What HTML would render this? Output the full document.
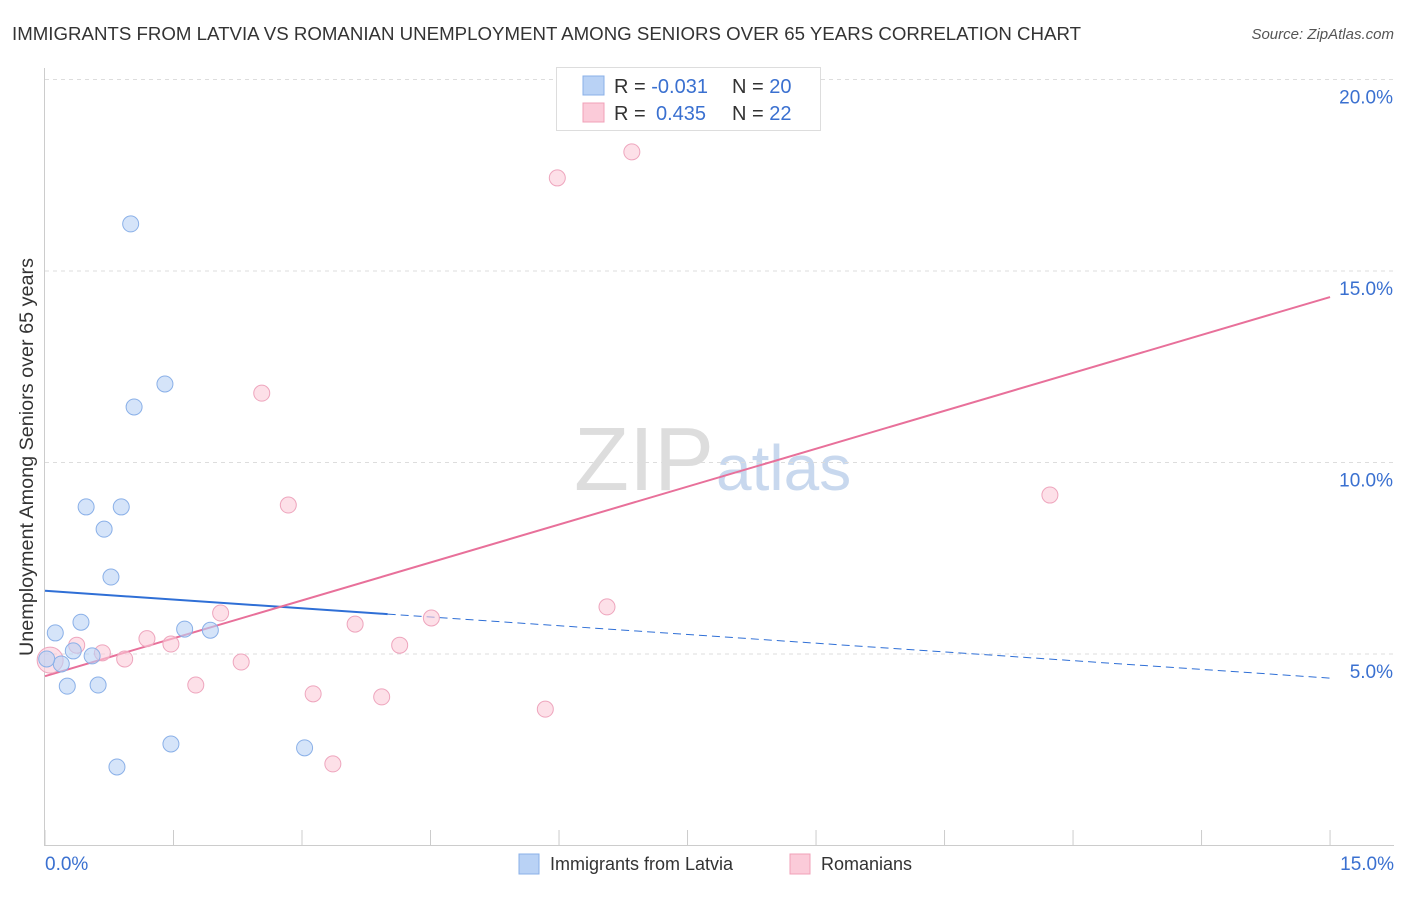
<!DOCTYPE html>
<html><head><meta charset="utf-8"><style>
body{margin:0;background:#fff;font-family:"Liberation Sans",sans-serif;}
svg text{font-family:"Liberation Sans",sans-serif;}
</style></head><body>
<svg id="chart" width="1406" height="892" viewBox="0 0 1406 892">
<text x="12" y="40" font-size="18" fill="#333" textLength="1069" lengthAdjust="spacingAndGlyphs">IMMIGRANTS FROM LATVIA VS ROMANIAN UNEMPLOYMENT AMONG SENIORS OVER 65 YEARS CORRELATION CHART</text>
<text x="1394" y="39" font-size="15" fill="#555" text-anchor="end" font-style="italic">Source: ZipAtlas.com</text>
<text x="714" y="490" font-size="90" fill="#ddd" text-anchor="end" font-family="Liberation Serif">ZIP</text>
<text x="716" y="490" font-size="64" fill="#c8d8ee">atlas</text>
<text transform="translate(33,457) rotate(-90)" font-size="19" fill="#333" text-anchor="middle" textLength="398" lengthAdjust="spacingAndGlyphs">Unemployment Among Seniors over 65 years</text>
<g id="grid"></g><g id="axes"></g><g id="lines"></g><g id="points"></g>
<g>
<rect x="556.5" y="67.5" width="264" height="63" fill="#fff" stroke="#ddd"/>
<rect x="583" y="76" width="21" height="19" fill="#b9d2f5" stroke="#8ab0e8"/>
<rect x="583" y="103" width="21" height="19" fill="#fbcbd9" stroke="#f0a0b8"/>
<text x="614" y="93" font-size="20" fill="#333">R = <tspan fill="#3a70d0">-0.031</tspan><tspan x="732">N = </tspan><tspan fill="#3a70d0">20</tspan></text>
<text x="614" y="120" font-size="20" fill="#333">R = <tspan x="656" fill="#3a70d0">0.435</tspan><tspan x="732">N = </tspan><tspan fill="#3a70d0">22</tspan></text>
</g>
<g>
<rect x="519" y="854" width="20" height="20" fill="#b9d2f5" stroke="#8ab0e8"/>
<text x="550" y="870" font-size="18" fill="#333">Immigrants from Latvia</text>
<rect x="790" y="854" width="20" height="20" fill="#fbcbd9" stroke="#f0a0b8"/>
<text x="821" y="870" font-size="18" fill="#333">Romanians</text>
</g>
</svg>
<script>
const blueX=[1.00,1.40,1.04,0.48,0.89,0.69,0.77,0.42,0.12,1.63,1.93,0.33,0.55,0.19,0.02,0.26,0.62,1.47,3.03,0.84];
const blueY=[16.23,12.05,11.45,8.84,8.84,8.26,7.01,5.83,5.55,5.65,5.62,5.08,4.95,4.74,4.87,4.16,4.19,2.65,2.55,2.05];
const pinkX=[6.85,5.98,2.53,2.84,11.73,6.56,4.51,3.62,2.05,1.19,1.47,0.37,0.67,0.93,4.14,2.29,1.76,3.13,3.93,5.84,3.36,0.06];
const pinkY=[18.11,17.43,11.81,8.89,9.15,6.23,5.94,5.78,6.07,5.40,5.26,5.23,5.03,4.87,5.23,4.79,4.19,3.96,3.88,3.56,2.13,4.84];
const blueTrend=[6.65,4.37];
const pinkTrend=[4.42,14.32];
const yTicks=[5,10,15,20];
const yTickLabels=["5.0%","10.0%","15.0%","20.0%"];
const xTickVals=[0,1.5,3,4.5,6,7.5,9,10.5,12,13.5,15];
const NS="http://www.w3.org/2000/svg";
const sx=v=>45+v*85.67, sy=v=>845.5-v*38.3;
function mk(p,t,a){const e=document.createElementNS(NS,t);for(const k in a)e.setAttribute(k,a[k]);document.getElementById(p).appendChild(e);return e;}
yTicks.forEach((t,i)=>{
 const l=mk('grid','line',{x1:45,x2:1394,y1:sy(t),y2:sy(t),stroke:'#ddd','stroke-dasharray':'4,4'});
 
 
 const tx=mk('grid','text',{x:1393,y:sy(t)+24,'font-size':19,fill:'#3a70d0','text-anchor':'end'});
 tx.textContent=yTickLabels[i];
 
 
});
const ax=mk('axes','line',{x1:44.5,x2:44.5,y1:68,y2:846,stroke:'#ccc'});


const bx=mk('axes','line',{x1:44,x2:1394,y1:845.5,y2:845.5,stroke:'#ccc'});


xTickVals.forEach(v=>{const t=mk('axes','line',{x1:sx(v),x2:sx(v),y1:830,y2:846,stroke:'#ccc'});
 
 });
const x0=mk('axes','text',{x:45,y:870,'font-size':19,fill:'#3a70d0'});x0.textContent='0.0%';


const x1=mk('axes','text',{x:1394,y:870,'font-size':19,fill:'#3a70d0','text-anchor':'end'});x1.textContent='15.0%';


const bAt=v=>blueTrend[0]+(blueTrend[1]-blueTrend[0])*v/15;
const bl1=mk('lines','line',{x1:sx(0),y1:sy(bAt(0)),x2:sx(4),y2:sy(bAt(4)),stroke:'#2f6fd6','stroke-width':2});


const bl2=mk('lines','line',{x1:sx(4),y1:sy(bAt(4)),x2:sx(15),y2:sy(bAt(15)),stroke:'#2f6fd6','stroke-width':1,'stroke-dasharray':'8,5'});


const pl=mk('lines','line',{x1:sx(0),y1:sy(pinkTrend[0]),x2:sx(15),y2:sy(pinkTrend[1]),stroke:'#e8709a','stroke-width':2});


pinkX.forEach((x,i)=>{const c=mk('points','circle',{cx:sx(x),cy:sy(pinkY[i]),r:i==pinkX.length-1?13:8,fill:'#fbcbd9','fill-opacity':0.6,stroke:'#eea5bd'});
 
 });
blueX.forEach((x,i)=>{const c=mk('points','circle',{cx:sx(x),cy:sy(blueY[i]),r:8,fill:'#b9d2f5','fill-opacity':0.6,stroke:'#8ab0e8'});
 
 });
</script>
</body></html>
